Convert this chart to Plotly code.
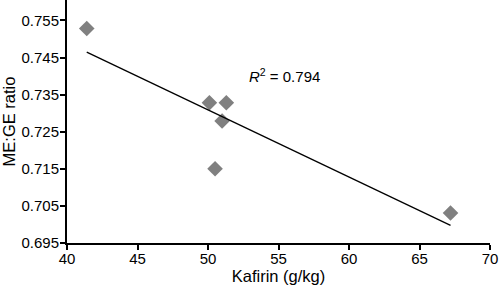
import numpy as np
import plotly.graph_objects as go

kafirin = [41.4, 50.1, 51.3, 51.0, 50.5, 67.2]
me_ge = [0.7528, 0.7328, 0.7328, 0.7279, 0.7150, 0.7031]
x_ticks = [40, 45, 50, 55, 60, 65, 70]
y_ticks = [0.695, 0.705, 0.715, 0.725, 0.735, 0.745, 0.755]
r2_label = "<i>R</i><sup>2</sup> = 0.794"

xa = np.array(kafirin)
ya = np.array(me_ge)
slope, intercept = np.polyfit(xa, ya, 1)
x_line = np.array([xa.min(), xa.max()])
y_line = slope * x_line + intercept

font = "Liberation Sans, Arial, Helvetica, sans-serif"

fig = go.Figure()
fig.add_trace(go.Scatter(x=kafirin, y=me_ge, mode="markers",
                         marker=dict(symbol="diamond", size=12, color="#808080"),
                         showlegend=False, cliponaxis=False))
fig.add_trace(go.Scatter(x=x_line, y=y_line, mode="lines",
                         line=dict(color="black", width=1.3), showlegend=False))
fig.add_annotation(x=55.4, y=0.7402, text=r2_label, showarrow=False,
                   font=dict(size=15, color="black", family=font))

fig.update_layout(
    width=500, height=288,
    margin=dict(l=67, r=10, t=0, b=45, autoexpand=False),
    plot_bgcolor="white", paper_bgcolor="white",
    font=dict(family=font, size=15, color="black"),
    xaxis=dict(range=[40, 70], tickvals=x_ticks, showgrid=False, zeroline=False,
               showline=True, linecolor="black", linewidth=2, automargin=False,
               ticks="outside", ticklen=5, tickwidth=1.5, tickcolor="black",
               ticklabelstandoff=-4,
               title=dict(text="Kafirin (g/kg)", standoff=0,
                          font=dict(size=16.5, family=font, color="black")),
               tickfont=dict(size=15)),
    yaxis=dict(range=[0.695, 0.7605], tickvals=y_ticks, tickformat=".3f",
               showgrid=False, zeroline=False,
               showline=True, linecolor="black", linewidth=2, automargin=False,
               ticks="outside", ticklen=5, tickwidth=1.5, tickcolor="black",
               ticklabelstandoff=-2,
               title=dict(text="ME:GE ratio", standoff=6,
                          font=dict(size=16.5, family=font, color="black")),
               tickfont=dict(size=15)),
)

fig.write_html("out.html", config={"displayModeBar": False},
               post_script="document.body.style.margin='0';document.body.style.overflow='hidden';")
